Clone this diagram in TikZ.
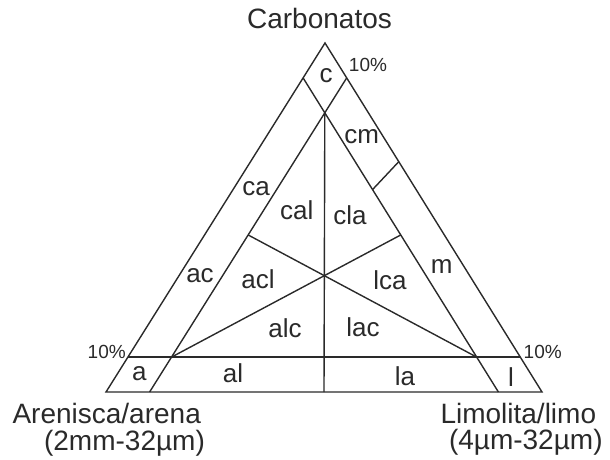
\documentclass[tikz,border=0pt]{standalone}
\usepackage{fontspec}
\setmainfont{Liberation Sans}
\usetikzlibrary{positioning}
\definecolor{ink}{HTML}{2A2A2A}

\begin{document}
\begin{tikzpicture}[x=1pt,y=-1pt,
 edge/.style={draw=ink,line width=1.4pt,line join=miter},
 corner/.style={text=ink,font=\fontsize{28}{32}\selectfont,inner sep=0pt,anchor=base},
 field/.style={text=ink,font=\fontsize{26}{30}\selectfont,inner sep=0pt},
 pct/.style={text=ink,font=\fontsize{19}{22}\selectfont,inner sep=0pt}]
\useasboundingbox (0,0) rectangle (610,459);
\coordinate (sand) at (106,392);
\coordinate (silt) at (542,392);
\coordinate (carb) at (325,43);
% inner triangle corners
\coordinate (isand) at (barycentric cs:sand=0.8,silt=0.1,carb=0.1);
\coordinate (isilt) at (barycentric cs:sand=0.1,silt=0.8,carb=0.1);
\coordinate (icarb) at (barycentric cs:sand=0.1,silt=0.1,carb=0.8);
\draw[edge] (sand) -- (silt) -- (carb) -- cycle;
% 10% lines
\draw[edge] (barycentric cs:sand=0.9,carb=0.1) -- (barycentric cs:silt=0.9,carb=0.1);
\draw[edge] (barycentric cs:sand=0.9,silt=0.1) -- (barycentric cs:carb=0.9,silt=0.1);
\draw[edge] (barycentric cs:silt=0.9,sand=0.1) -- (barycentric cs:carb=0.9,sand=0.1);
% medians of the inner triangle
\draw[edge] (icarb) -- (barycentric cs:sand=0.5,silt=0.5);
\draw[edge] (isand) -- (barycentric cs:sand=0.1,silt=0.45,carb=0.45);
\draw[edge] (isilt) -- (barycentric cs:sand=0.45,silt=0.1,carb=0.45);
\draw[edge] (barycentric cs:sand=0.1,silt=0.32,carb=0.58) -- (barycentric cs:silt=0.34,carb=0.66);

\node[corner] (carbonatos) at (319.5,28.5) {Carbonatos};
\node[corner] (arenisca) at (106.7,423) {Arenisca/arena};
\node[corner] (arenasize) at (124.5,450) {(2mm-32µm)};
\node[corner] (limolita) at (518.3,423) {Limolita/limo};
\node[corner] (limosize) at (525.8,449) {(4µm-32µm)};

\node[pct] (ptop) at (368,65) {10\%};
\node[pct] (pleft) at (106.7,351.7) {10\%};
\node[pct] (pright) at (542.7,351.7) {10\%};

\foreach \n/\x/\y in {c/326/76,cm/361.7/136.7,m/441.7/266.7,ca/256/188.3,cal/296.7/210,
  cla/350/215,ac/200/276,acl/258/279,lca/390/280,alc/285/328,lac/363/326.7,
  a/139.3/374,al/233/373,la/405/376,l/511/376.7}
  \node[field] (f\n) at (\x,\y) {\n};
\end{tikzpicture}
\end{document}
